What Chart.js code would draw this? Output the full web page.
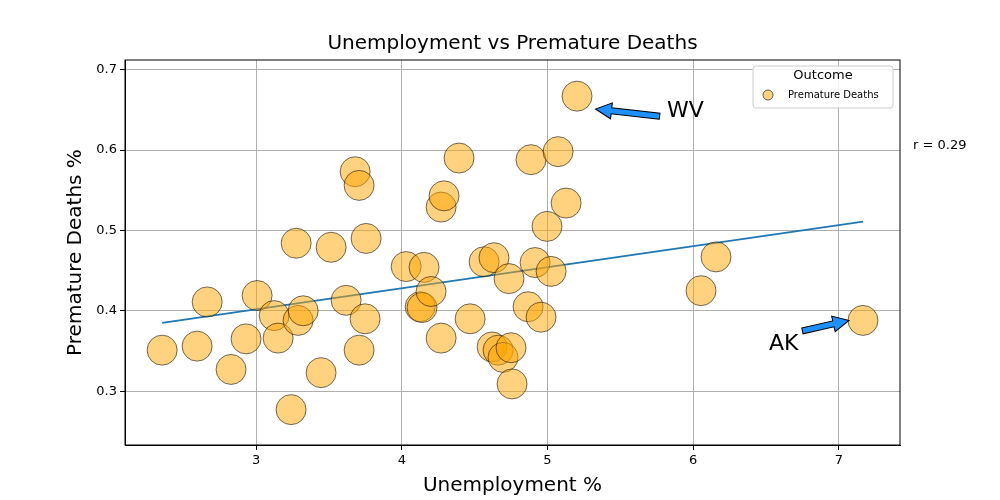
<!DOCTYPE html>
<html>
<head>
<meta charset="utf-8">
<script src="https://cdn.jsdelivr.net/npm/chart.js@4"></script>
<style>
  html, body { margin: 0; padding: 0; background: #fff; }
  #wrap { width: 1000px; height: 500px; }
</style>
</head>
<body>
<div id="wrap"><canvas id="chart"></canvas></div>
<script>
const unemployment = [2.355, 2.595, 2.664, 2.828, 2.931, 3.007, 3.124, 3.151, 3.240, 3.275, 3.288, 3.323, 3.446, 3.515, 3.618, 3.680, 3.707, 3.707, 3.748, 3.755, 4.030, 4.126, 4.139, 4.153, 4.201, 4.270, 4.290, 4.270, 4.393, 4.469, 4.565, 4.620, 4.633, 4.661, 4.695, 4.736, 4.750, 4.757, 4.867, 4.887, 4.915, 4.956, 4.997, 5.025, 5.073, 5.128, 5.203, 6.054, 6.157, 7.166];
const prematureDeaths = [0.351, 0.356, 0.411, 0.327, 0.365, 0.419, 0.394, 0.366, 0.277, 0.484, 0.388, 0.400, 0.323, 0.479, 0.413, 0.573, 0.556, 0.351, 0.390, 0.490, 0.455, 0.405, 0.404, 0.454, 0.424, 0.529, 0.543, 0.366, 0.590, 0.390, 0.461, 0.355, 0.466, 0.351, 0.342, 0.440, 0.354, 0.309, 0.405, 0.588, 0.460, 0.392, 0.505, 0.449, 0.598, 0.534, 0.667, 0.425, 0.467, 0.388];
const fitX = [2.355, 7.166];
const fitY = [0.385, 0.511];
const xTicks = [3, 4, 5, 6, 7];
const yTicks = [0.3, 0.4, 0.5, 0.6, 0.7];
const titleText = 'Unemployment vs Premature Deaths';
const rText = 'r = 0.29';
// label, label position, arrow tail, arrow head (data units)
const notes = [
  { text: 'WV', at: [5.82, 0.648], from: [5.77, 0.642], to: [5.33, 0.651] },
  { text: 'AK', at: [6.52, 0.358], from: [6.75, 0.375], to: [7.07, 0.388] }
];

const points = unemployment.map((x, i) => ({ x: x, y: prematureDeaths[i] }));
const fitLine = fitX.map((x, i) => ({ x: x, y: fitY[i] }));

const extras = {
  id: 'extras',
  afterDatasetsDraw(chart) {
    const { ctx, scales: { x, y }, chartArea } = chart;
    ctx.save();
    // frame
    ctx.strokeStyle = '#000';
    ctx.lineWidth = 1;
    ctx.strokeRect(chartArea.left, chartArea.top, chartArea.right - chartArea.left, chartArea.bottom - chartArea.top);
    // title
    ctx.fillStyle = '#000';
    ctx.font = '20px "DejaVu Sans"';
    ctx.textAlign = 'center';
    ctx.textBaseline = 'middle';
    ctx.fillText(titleText, (chartArea.left + chartArea.right) / 2, 44);
    // annotations
    notes.forEach(n => {
      const x1 = x.getPixelForValue(n.from[0]), y1 = y.getPixelForValue(n.from[1]);
      const x2 = x.getPixelForValue(n.to[0]), y2 = y.getPixelForValue(n.to[1]);
      const ang = Math.atan2(y2 - y1, x2 - x1);
      const len = Math.hypot(x2 - x1, y2 - y1);
      ctx.save();
      ctx.translate(x1, y1);
      ctx.rotate(ang);
      const hl = 16, hw = 8, sw = 3;
      ctx.beginPath();
      ctx.moveTo(0, -sw);
      ctx.lineTo(len - hl, -sw);
      ctx.lineTo(len - hl, -hw);
      ctx.lineTo(len, 0);
      ctx.lineTo(len - hl, hw);
      ctx.lineTo(len - hl, sw);
      ctx.lineTo(0, sw);
      ctx.closePath();
      ctx.fillStyle = '#1e90ff';
      ctx.fill();
      ctx.strokeStyle = '#000';
      ctx.lineWidth = 1;
      ctx.stroke();
      ctx.restore();
      ctx.fillStyle = '#000';
      ctx.font = '22px "DejaVu Sans"';
      ctx.textAlign = 'left';
      ctx.textBaseline = 'middle';
      ctx.fillText(n.text, x.getPixelForValue(n.at[0]), y.getPixelForValue(n.at[1]));
    });
    // r text
    ctx.font = '13px "DejaVu Sans"';
    ctx.textAlign = 'left';
    ctx.fillText(rText, 913, 146);
    // legend
    const lx = chartArea.right - 147, ly = chartArea.top + 6, lw = 140, lh = 42;
    ctx.fillStyle = 'rgba(255,255,255,0.85)';
    ctx.strokeStyle = '#ccc';
    ctx.beginPath();
    ctx.roundRect(lx, ly, lw, lh, 3);
    ctx.fill();
    ctx.stroke();
    ctx.fillStyle = '#000';
    ctx.textAlign = 'center';
    ctx.font = '13px "DejaVu Sans"';
    ctx.fillText('Outcome', lx + lw / 2, ly + 10);
    ctx.beginPath();
    ctx.arc(lx + 15, ly + 29, 5, 0, Math.PI * 2);
    ctx.fillStyle = 'rgba(255,165,0,0.5)';
    ctx.fill();
    ctx.strokeStyle = 'rgba(0,0,0,0.6)';
    ctx.stroke();
    ctx.fillStyle = '#000';
    ctx.textAlign = 'left';
    ctx.font = '10px "DejaVu Sans"';
    ctx.fillText('Premature Deaths', lx + 35, ly + 29);
    ctx.restore();
  }
};

new Chart(document.getElementById('chart'), {
  type: 'scatter',
  data: {
    datasets: [
      {
        label: 'Premature Deaths',
        data: points,
        pointRadius: 15,
        pointHoverRadius: 15,
        backgroundColor: 'rgba(255,165,0,0.5)',
        borderColor: 'rgba(0,0,0,0.55)',
        borderWidth: 1
      },
      {
        type: 'line',
        label: 'fit',
        data: fitLine,
        borderColor: '#1f77b4',
        borderWidth: 1.8,
        pointRadius: 0,
        fill: false
      }
    ]
  },
  options: {
    responsive: true,
    maintainAspectRatio: false,
    animation: false,
    layout: { padding: { left: 60, right: 100, top: 60, bottom: 0 } },
    plugins: {
      legend: { display: false },
      tooltip: { enabled: false },
      title: { display: false }
    },
    scales: {
      x: {
        type: 'linear',
        min: 2.10,
        max: 7.42,
        afterBuildTicks: s => { s.ticks = xTicks.map(v => ({ value: v })); },
        afterFit: s => { s.height = 55; },
        ticks: { color: '#000', font: { family: 'DejaVu Sans', size: 13 }, callback: v => String(v) },
        grid: { color: '#b0b0b0', tickColor: '#000', tickLength: 5 },
        border: { color: '#000' },
        title: { display: true, text: 'Unemployment %', color: '#000', font: { family: 'DejaVu Sans', size: 20 }, padding: 2 }
      },
      y: {
        min: 0.233,
        max: 0.712,
        afterBuildTicks: s => { s.ticks = yTicks.map(v => ({ value: v })); },
        afterFit: s => { s.width = 65; },
        ticks: { color: '#000', font: { family: 'DejaVu Sans', size: 13 }, callback: v => v.toFixed(1) },
        grid: { color: '#b0b0b0', tickColor: '#000', tickLength: 5 },
        border: { color: '#000' },
        title: { display: true, text: 'Premature Deaths %', color: '#000', font: { family: 'DejaVu Sans', size: 20 }, padding: 4 }
      }
    }
  },
  plugins: [extras]
});
</script>
</body>
</html>
